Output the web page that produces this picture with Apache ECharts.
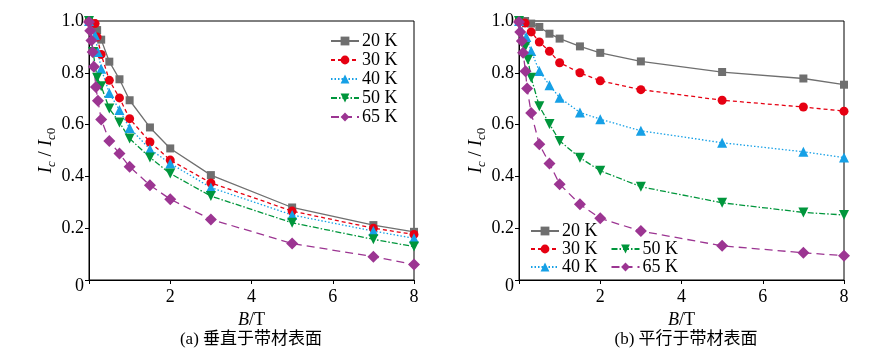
<!DOCTYPE html>
<html>
<head>
<meta charset="utf-8">
<script src="https://cdn.jsdelivr.net/npm/echarts@6/dist/echarts.min.js"></script>
<style>html,body{margin:0;padding:0;background:#fff}#c{width:870px;height:359px}</style>
</head>
<body>
<div id="c"></div>
<script>
// ---- data (B in T, Ic/Ic0) ----
const seriesNames = ['20 K', '30 K', '40 K', '50 K', '65 K'];
const xTicks = [0, 2, 4, 6, 8];
const yTicks = [0, 0.2, 0.4, 0.6, 0.8, 1.0];

// (a) perpendicular to tape surface
const perp20K = [[0,1.0],[0.1,0.99],[0.2,0.965],[0.3,0.928],[0.5,0.843],[0.75,0.775],[1,0.694],[1.5,0.589],[2,0.508],[3,0.405],[5,0.28],[7,0.212],[8,0.186]];
const perp30K = [[0,1.0],[0.15,0.99],[0.2,0.938],[0.3,0.871],[0.5,0.771],[0.75,0.703],[1,0.623],[1.5,0.533],[2,0.463],[3,0.375],[5,0.266],[7,0.2],[8,0.176]];
const perp40K = [[0,1.0],[0.15,0.945],[0.22,0.88],[0.3,0.816],[0.5,0.722],[0.75,0.656],[1,0.587],[1.5,0.505],[2,0.45],[3,0.357],[5,0.251],[7,0.189],[8,0.161]];
const perp50K = [[0,1.0],[0.1,0.88],[0.2,0.781],[0.3,0.748],[0.5,0.662],[0.75,0.608],[1,0.546],[1.5,0.473],[2,0.411],[3,0.324],[5,0.221],[7,0.157],[8,0.129]];
const perp65K = [[0,0.996],[0.03,0.962],[0.06,0.925],[0.09,0.88],[0.12,0.823],[0.17,0.745],[0.22,0.692],[0.3,0.62],[0.5,0.537],[0.75,0.488],[1,0.437],[1.5,0.366],[2,0.312],[3,0.234],[5,0.141],[7,0.09],[8,0.06]];

// (b) parallel to tape surface
const para20K = [[0,1.0],[0.15,1.0],[0.3,0.99],[0.5,0.977],[0.75,0.951],[1,0.932],[1.5,0.902],[2,0.877],[3,0.844],[5,0.803],[7,0.778],[8,0.754]];
const para30K = [[0,1.0],[0.15,0.992],[0.3,0.958],[0.5,0.919],[0.75,0.883],[1,0.839],[1.5,0.8],[2,0.769],[3,0.735],[5,0.694],[7,0.668],[8,0.652]];
const para40K = [[0,1.0],[0.18,0.938],[0.3,0.884],[0.5,0.807],[0.75,0.752],[1,0.704],[1.5,0.647],[2,0.621],[3,0.576],[5,0.53],[7,0.495],[8,0.473]];
const para50K = [[0,1.0],[0.15,0.9],[0.22,0.85],[0.3,0.781],[0.5,0.671],[0.75,0.602],[1,0.537],[1.5,0.472],[2,0.422],[3,0.36],[5,0.298],[7,0.261],[8,0.251]];
const para65K = [[0,0.996],[0.03,0.958],[0.07,0.923],[0.1,0.877],[0.16,0.806],[0.2,0.739],[0.3,0.645],[0.5,0.524],[0.75,0.45],[1,0.37],[1.5,0.292],[2,0.238],[3,0.189],[5,0.132],[7,0.105],[8,0.094]];

const perpData = [perp20K, perp30K, perp40K, perp50K, perp65K];
const paraData = [para20K, para30K, para40K, para50K, para65K];
const captions = ['(a) 垂直于带材表面', '(b) 平行于带材表面'];

// ---- styles ----
const SERIF = '"Liberation Serif", "Times New Roman", serif';
const CAP_FONT = '"Liberation Serif", "Noto Sans CJK SC", serif';
const DIAMOND = 'path://M5,0 L10,5 L5,10 L0,5 Z';
const styles = [
  {color:'#6f6f6f', symbol:'rect', size:8, rotate:0, dash:'solid'},
  {color:'#e60012', symbol:'circle', size:9, rotate:0, dash:[4,3]},
  {color:'#16a0e6', symbol:'triangle', size:10, rotate:0, dash:[1.5,2]},
  {color:'#00963c', symbol:'triangle', size:10, rotate:180, dash:[6,2,1.5,2]},
  {color:'#9c3592', symbol:DIAMOND, size:12, rotate:0, dash:[8,5]}
];

const chart = echarts.init(document.getElementById('c'));

const yName = '{i|I}{s|c}{n| / }{i|I}{s|c}{s0|0}';
const yNameRich = {
  i:{fontFamily:SERIF, fontStyle:'italic', fontSize:19, lineHeight:24, verticalAlign:'middle', color:'#000'},
  n:{fontFamily:SERIF, fontSize:19, lineHeight:24, verticalAlign:'middle', color:'#000'},
  s:{fontFamily:SERIF, fontStyle:'italic', fontSize:13, lineHeight:12, verticalAlign:'bottom', color:'#000'},
  s0:{fontFamily:SERIF, fontSize:13, lineHeight:12, verticalAlign:'bottom', color:'#000'}
};

function xAxis(idx){
  return {
    type:'value', gridIndex:idx, min:0, max:8, interval:2,
    name:'{i|B}{n|/T}', nameLocation:'middle', nameGap:21,
    nameTextStyle:{rich:{
      i:{fontFamily:SERIF, fontStyle:'italic', fontSize:18, color:'#000'},
      n:{fontFamily:SERIF, fontSize:18, color:'#000'}
    }},
    axisLine:{lineStyle:{color:'#000', width:1}},
    axisTick:{show:true, inside:false, length:4, lineStyle:{color:'#000'}},
    splitLine:{show:false},
    axisLabel:{fontFamily:SERIF, fontSize:18, color:'#000', margin:8,
      formatter:v => v === 0 ? '' : String(v)}
  };
}
function yAxis(idx){
  return {
    type:'value', gridIndex:idx, min:0, max:1, interval:0.2,
    name:yName, nameLocation:'middle', nameGap:31, nameRotate:90,
    nameTextStyle:{rich:yNameRich},
    axisLine:{lineStyle:{color:'#000', width:1}},
    axisTick:{show:true, inside:false, length:4, lineStyle:{color:'#000'}},
    splitLine:{show:false},
    axisLabel:{fontFamily:SERIF, fontSize:18, color:'#000', margin:5,
      formatter:v => v === 0 ? '{z|0}' : v.toFixed(1),
      rich:{z:{fontFamily:SERIF, fontSize:18, color:'#000', padding:[12,0,0,0]}}}
  };
}

const series = [];
[perpData, paraData].forEach((set, g) => {
  set.forEach((d, k) => {
    const s = styles[k];
    series.push({
      type:'line', name:seriesNames[k], xAxisIndex:g, yAxisIndex:g,
      data:d, symbol:s.symbol, symbolSize:s.size, symbolRotate:s.rotate,
      showSymbol:true, smooth:false, animation:false,
      lineStyle:{color:s.color, width:1.3, type:s.dash},
      itemStyle:{color:s.color}
    });
  });
});

const legendBase = {
  orient:'horizontal', itemWidth:28, itemHeight:11, itemGap:13,
  textStyle:{fontFamily:SERIF, fontSize:18, color:'#000', padding:[0,0,0,-2]},
  inactiveColor:'#ccc', selectedMode:false, padding:0
};

chart.setOption({
  backgroundColor:'#fff',
  animation:false,
  grid:[
    {left:89, right:456, top:21, bottom:79, show:true, borderColor:'#000', borderWidth:1},
    {left:519, right:26, top:21, bottom:79, show:true, borderColor:'#000', borderWidth:1}
  ],
  xAxis:[xAxis(0), xAxis(1)],
  yAxis:[yAxis(0), yAxis(1)],
  legend:[
    Object.assign({}, legendBase, {orient:'vertical', left:330, top:32, itemGap:1, data:seriesNames}),
    Object.assign({}, legendBase, {left:530, top:222, data:[seriesNames[0]]}),
    Object.assign({}, legendBase, {left:530, top:240, data:[seriesNames[1], seriesNames[3]]}),
    Object.assign({}, legendBase, {left:530, top:258, data:[seriesNames[2], seriesNames[4]]})
  ],
  graphic:[
    {type:'text', x:251, y:340, style:{text:captions[0], font:'17px ' + CAP_FONT, fill:'#000', textAlign:'center', textVerticalAlign:'middle'}},
    {type:'text', x:686, y:340, style:{text:captions[1], font:'17px ' + CAP_FONT, fill:'#000', textAlign:'center', textVerticalAlign:'middle'}}
  ],
  series:series
});
</script>
</body>
</html>
